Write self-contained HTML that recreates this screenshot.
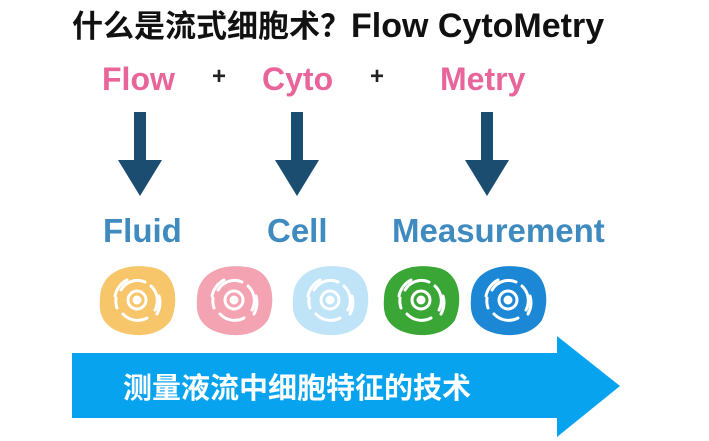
<!DOCTYPE html>
<html><head><meta charset="utf-8"><style>
body{margin:0;width:709px;height:441px;background:#fff;position:relative;overflow:hidden;font-family:"Liberation Sans","Noto Sans CJK SC",sans-serif}
.t{position:absolute;white-space:nowrap;font-weight:bold}
</style></head><body>
<div class="t" style="left:72px;top:1px;font-size:31px;color:#111">什么是流式细胞术？<span style="font-size:34px">Flow CytoMetry</span></div>
<div class="t" style="left:102px;top:61px;font-size:32px;color:#e8649a">Flow</div>
<div class="t" style="left:212px;top:63px;font-size:24px;color:#222">+</div>
<div class="t" style="left:262px;top:61px;font-size:32px;color:#e8649a">Cyto</div>
<div class="t" style="left:370px;top:63px;font-size:24px;color:#222">+</div>
<div class="t" style="left:440px;top:61px;font-size:32px;color:#e8649a">Metry</div>
<div class="t" style="left:103px;top:212px;font-size:33px;color:#3f8bbf">Fluid</div>
<div class="t" style="left:267px;top:212px;font-size:33px;color:#3f8bbf">Cell</div>
<div class="t" style="left:392px;top:212px;font-size:33px;color:#3f8bbf">Measurement</div>
<svg width="709" height="441" style="position:absolute;left:0;top:0">
<defs>
<g id="a"><rect x="-6" y="0" width="12" height="50" fill="#1b4d70"/><polygon points="-22,48 22,48 0,84" fill="#1b4d70"/></g>
<g id="c" fill="none" stroke="#fff" stroke-width="3" stroke-linecap="round">
<circle r="9"/><circle r="3" fill="#fff"/>
<path d="M-16,-10 A19,19 0 0 1 8,-18"/><path d="M-22,-4 A23,23 0 0 1 -10,-20"/><path d="M14,-14 A20,20 0 0 1 18,10"/><path d="M10,18 A20,20 0 0 1 -14,14"/><path d="M-20,8 A22,22 0 0 1 -21,-2"/><path d="M22,-4 A24,24 0 0 1 20,14"/>
</g>
<path id="s" d="M-37,-2 C-36,-30 -8,-38 18,-32 C40,-26 42,2 34,20 C22,38 -5,38 -22,30 C-36,22 -38,12 -37,-2Z"/>
</defs>
<use href="#a" x="140" y="112"/><use href="#a" x="297" y="112"/><use href="#a" x="487" y="112"/>
<g transform="translate(137,300)"><use href="#s" fill="#f7c56a"/><use href="#c"/></g>
<g transform="translate(234,300)"><use href="#s" fill="#f4a3b3"/><use href="#c"/></g>
<g transform="translate(330,300)"><use href="#s" fill="#bfe3f7"/><use href="#c"/></g>
<g transform="translate(421,300)"><use href="#s" fill="#3aa636"/><use href="#c"/></g>
<g transform="translate(508,300)"><use href="#s" fill="#1c87d4"/><use href="#c"/></g>
<polygon points="72,353 557,353 557,336 620,386 557,437 557,418 72,418" fill="#08a3ef"/>
<text x="123" y="398" font-size="29" font-weight="bold" fill="#fff" font-family="Liberation Sans, Noto Sans CJK SC, sans-serif">测量液流中细胞特征的技术</text>
</svg>
</body></html>
